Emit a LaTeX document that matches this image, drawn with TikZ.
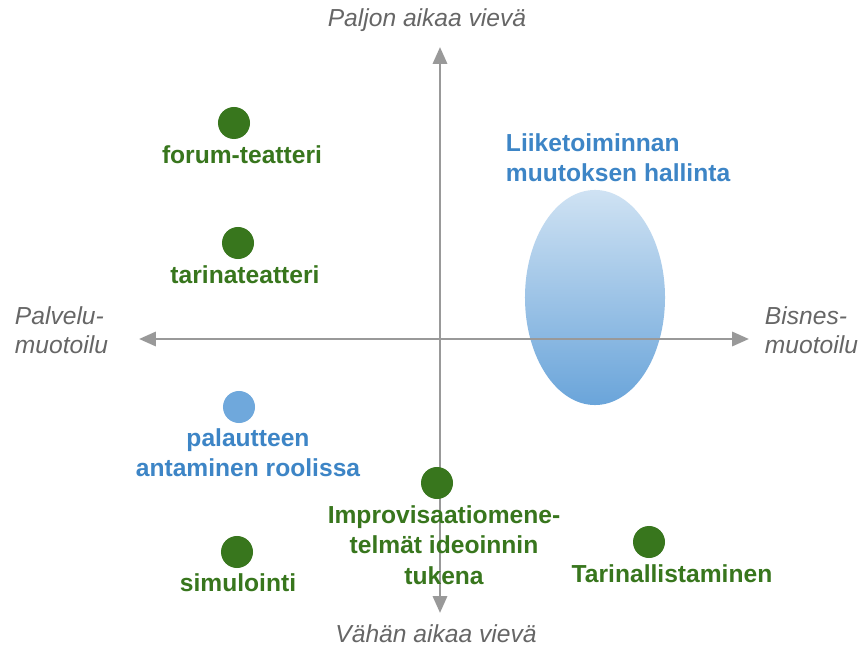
\documentclass[tikz,border=0pt]{standalone}
\usepackage{fontspec}
\setmainfont{Liberation Sans}
\usetikzlibrary{arrows.meta,shapes.geometric}
\definecolor{quadgreen}{RGB}{56,118,29}
\definecolor{quadblue}{RGB}{61,133,198}
\definecolor{quaddot}{RGB}{111,168,220}
\definecolor{quadtop}{RGB}{207,226,243}
\definecolor{quadaxis}{RGB}{153,153,153}
\definecolor{quadlabel}{RGB}{102,102,102}
\begin{document}
\begin{tikzpicture}[
  x=0.025cm, y=-0.025cm,
  font=\fontsize{17.5}{21.5}\selectfont,
  axis/.style={{Triangle[length=12pt,width=10pt]}-{Triangle[length=12pt,width=10pt]}, line width=2.1pt, draw=quadaxis},
  gdot/.style={circle, fill=quadgreen, minimum size=0.8cm, inner sep=0pt},
  bdot/.style={circle, fill=quaddot, minimum size=0.8cm, inner sep=0pt},
  gtext/.style={text=quadgreen, font=\fontsize{17.5}{21.5}\selectfont\bfseries, align=center},
  btext/.style={text=quadblue, font=\fontsize{17.5}{21.5}\selectfont\bfseries},
  axlabel/.style={text=quadlabel, font=\fontsize{17.5}{20.5}\selectfont\itshape}
]
\fill[white] (0,0) rectangle (862,649);
\useasboundingbox (0,0) rectangle (862,649);

\node[ellipse, minimum width=3.5cm, minimum height=5.375cm, inner sep=0pt,
  top color=quadtop, bottom color=quaddot!90!quadblue] (change) at (595,297.5) {};

\coordinate (ytop) at (440,47);
\coordinate (ybot) at (440,613);
\coordinate (xleft) at (139,339);
\coordinate (xright) at (749,339);
\draw[axis] (ybot) -- (ytop);
\draw[axis] (xleft) -- (xright);

\node[axlabel] (slow) at (427,20) {Paljon aikaa vievä};
\node[axlabel] (fast) at (436,634) {Vähän aikaa vievä};
\node[axlabel, align=left, anchor=west] (service) at (10,330) {Palvelu-\\muotoilu};
\node[axlabel, align=left, anchor=west] (business) at (760,330) {Bisnes-\\muotoilu};

\node[btext, align=left, anchor=west] (changelbl) at (501,158) {Liiketoiminnan\\muutoksen hallinta};

\node[gdot] (forum) at (234,123) {};
\node[gtext] (forumlbl) at (242,155) {forum-teatteri};
\node[gdot] (story) at (238,243) {};
\node[gtext] (storylbl) at (245,275) {tarinateatteri};
\node[bdot] (feedback) at (239,407) {};
\node[btext, align=center] (feedbacklbl) at (248,453) {palautteen\\antaminen roolissa};
\node[gdot] (improv) at (437,483) {};
\node[gtext] (improvlbl) at (444,545) {Improvisaatiomene-\\telmät ideoinnin\\tukena};
\node[gdot] (sim) at (237,552) {};
\node[gtext] (simlbl) at (238,583) {simulointi};
\node[gdot] (tell) at (649,542) {};
\node[gtext] (telllbl) at (672,574) {Tarinallistaminen};
\end{tikzpicture}
\end{document}
